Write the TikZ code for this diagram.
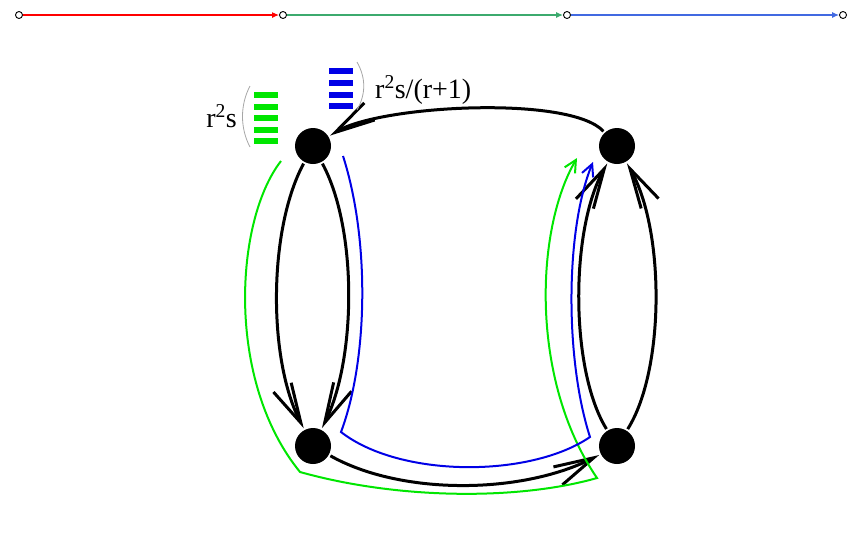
\documentclass[tikz,border=0pt]{standalone}
\usepackage{fontspec}
\setmainfont{Liberation Serif}
\usetikzlibrary{arrows.meta}

\definecolor{barred}{RGB}{255,0,0}
\definecolor{bargreen}{RGB}{60,170,110}
\definecolor{barblue}{RGB}{65,105,225}
\definecolor{pathgreen}{RGB}{0,230,0}
\definecolor{pathblue}{RGB}{0,0,230}

\tikzset{
  vertex/.style={circle,fill=black,minimum size=36pt,inner sep=0pt,outer sep=2pt},
  knot/.style={circle,draw=black,fill=white,line width=0.9pt,minimum size=7pt,inner sep=0pt},
  edge/.style={line width=3pt,-{Straight Barb[length=40pt,width=20pt,line width=3pt]}},
  walk/.style={line width=2pt,line join=miter},
  paren/.style={gray!70,line width=0.8pt},
  label/.style={font=\fontsize{28}{32}\selectfont,inner sep=0pt}
}

\begin{document}
\begin{tikzpicture}[x=1pt,y=-1pt]
\useasboundingbox (0,0) rectangle (861,552);
% top bar
\node[knot] (p0) at (19,15) {};
\node[knot] (p1) at (283,15) {};
\node[knot] (p2) at (567,15) {};
\node[knot] (p3) at (843,15) {};
\draw[barred,line width=1.2pt,-{Latex[length=7pt,width=6pt]}] (p0) -- (p1);
\draw[bargreen,line width=1.2pt,-{Latex[length=7pt,width=6pt]}] (p1) -- (p2);
\draw[barblue,line width=1.2pt,-{Latex[length=7pt,width=6pt]}] (p2) -- (p3);
% vertices
\node[vertex] (tl) at (313,146) {};
\node[vertex] (tr) at (617,146) {};
\node[vertex] (bl) at (313,446) {};
\node[vertex] (br) at (617,446) {};
% edges
\draw[edge] (tr) .. controls (570,95) and (380,105) .. (tl);
\draw[edge] (tl) .. controls (268,230) and (268,360) .. (bl);
\draw[edge] (tl) .. controls (358,230) and (356,360) .. (bl);
\draw[edge] (bl) .. controls (400,495) and (520,495) .. (br);
\draw[edge] (br) .. controls (570,370) and (570,230) .. (tr);
\draw[edge] (br) .. controls (665,370) and (665,230) .. (tr);
% walks
\draw[walk,pathgreen,-{Straight Barb[length=12pt,width=12pt,line width=2pt]}]
  (281,161) .. controls (235,220) and (225,380) .. (300,472)
  .. controls (400,500) and (520,500) .. (597,478)
  .. controls (530,380) and (535,230) .. (577,158);
\draw[walk,pathblue,-{Straight Barb[length=12pt,width=12pt,line width=2pt]}]
  (343,156) .. controls (370,240) and (368,360) .. (341,432)
  .. controls (400,478) and (530,478) .. (590,437)
  .. controls (565,360) and (565,230) .. (593,162);
% labels
\foreach \y in {92,103.5,115,126.5,138}
  \fill[pathgreen] (254,\y) rectangle (278,\y+6);
\foreach \y in {68,80,92,103}
  \fill[pathblue] (329,\y) rectangle (353,\y+6);
\draw[paren] (250,86) .. controls (240,105) and (240,128) .. (250,147);
\draw[paren] (357,62) .. controls (366,78) and (366,94) .. (357,110);
\node[label,anchor=base east] (lg) at (237,127) {r\textsuperscript{2}s};
\node[label,anchor=base west] (lb) at (375,98) {r\textsuperscript{2}s/(r+1)};
\end{tikzpicture}
\end{document}
